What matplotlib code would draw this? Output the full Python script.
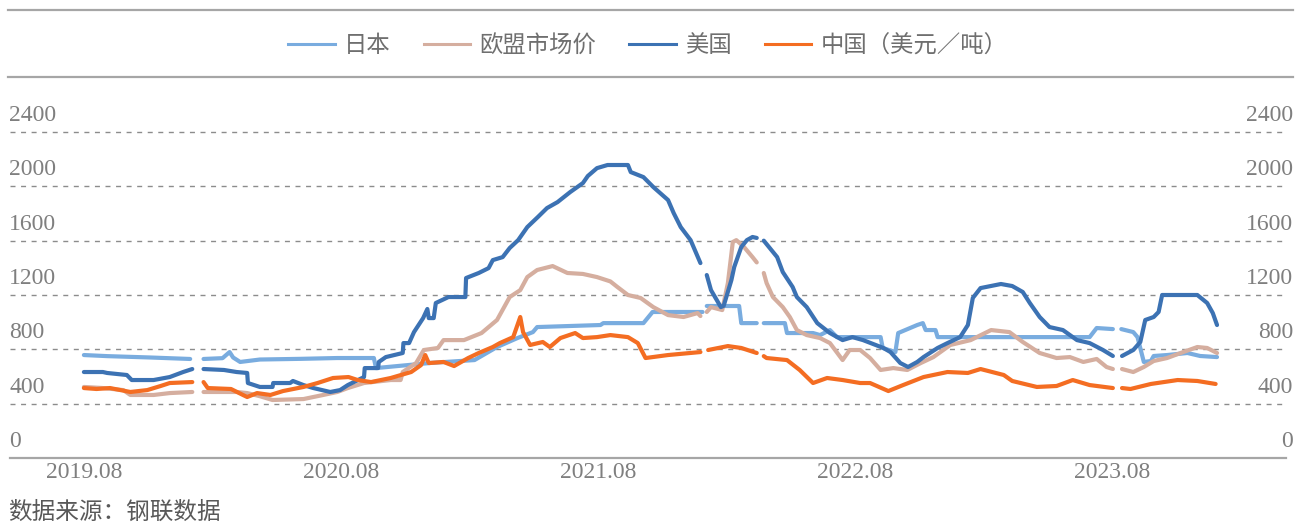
import numpy as np
import pandas as pd
import matplotlib.pyplot as plt
import matplotlib.transforms as mtransforms
from matplotlib.lines import Line2D
from matplotlib.font_manager import FontProperties

NaN = np.nan

# 日本
jp_dates = ["2019-08-01", "2019-09-03", "2019-11-03", "2019-12-30", "2020-01-08",
            "2020-01-18", "2020-02-14", "2020-02-24", "2020-02-29", "2020-03-10",
            "2020-04-07", "2020-06-04", "2020-07-26", "2020-09-16", "2020-09-19",
            "2020-12-06", "2021-02-06", "2021-03-10", "2021-04-08", "2021-04-30",
            "2021-05-06", "2021-08-04", "2021-08-08", "2021-10-04", "2021-10-17",
            "2021-12-27", "2022-01-01", "2022-01-02", "2022-02-17", "2022-02-20",
            "2022-03-14", "2022-03-18", "2022-03-24", "2022-04-23", "2022-04-26",
            "2022-06-02", "2022-06-12", "2022-06-26", "2022-07-06", "2022-09-06",
            "2022-09-09", "2022-09-27", "2022-10-01", "2022-10-28", "2022-11-05",
            "2022-11-09", "2022-11-23", "2022-11-26", "2023-06-30", "2023-07-10",
            "2023-08-02", "2023-08-08", "2023-08-14", "2023-08-31", "2023-09-06",
            "2023-09-15", "2023-09-25", "2023-09-29", "2023-10-18", "2023-11-16",
            "2023-12-04", "2023-12-28"]
jp_vals = [758, 750, 740, 729, NaN,
           729, 735, 780, 740, 707,
           725, 730, 736, 736, 662,
           700, 721, 817, 883, 927,
           964, 979, 993, 993, 1075,
           1075, NaN, 1119, 1119, 993,
           993, NaN, 993, 993, 920,
           920, 905, 942, 890, 890,
           810, 780, 920, 979, 993,
           942, 942, 890, 890, 957,
           949, NaN, 949, 927, 890,
           707, 714, 751, 758, 773,
           751, 743]

# 欧盟市场价
eu_dates = ["2019-08-01", "2019-08-28", "2019-09-26", "2019-10-06", "2019-11-08",
            "2019-12-01", "2020-01-02", "2020-01-08", "2020-01-18", "2020-03-05",
            "2020-03-20", "2020-04-07", "2020-04-25", "2020-06-08", "2020-07-06",
            "2020-07-26", "2020-08-10", "2020-09-02", "2020-10-10", "2020-10-24",
            "2020-10-27", "2020-11-15", "2020-11-26", "2020-12-16", "2020-12-24",
            "2021-01-22", "2021-02-16", "2021-03-10", "2021-03-28", "2021-04-12",
            "2021-04-22", "2021-05-06", "2021-05-28", "2021-06-18", "2021-07-10",
            "2021-07-30", "2021-08-18", "2021-08-28", "2021-09-12", "2021-09-30",
            "2021-10-18", "2021-11-08", "2021-11-30", "2021-12-20", "2021-12-24",
            "2022-01-01", "2022-01-02", "2022-01-08", "2022-01-24", "2022-02-01",
            "2022-02-08", "2022-02-13", "2022-02-24", "2022-03-08", "2022-03-14",
            "2022-03-18", "2022-03-24", "2022-03-28", "2022-04-06", "2022-04-20",
            "2022-04-30", "2022-05-10", "2022-05-24", "2022-06-12", "2022-06-26",
            "2022-07-14", "2022-07-24", "2022-08-08", "2022-08-22", "2022-09-06",
            "2022-09-24", "2022-10-14", "2022-11-02", "2022-11-20", "2022-12-14",
            "2023-01-12", "2023-02-10", "2023-03-08", "2023-03-27", "2023-04-20",
            "2023-05-14", "2023-06-02", "2023-06-21", "2023-07-10", "2023-07-24",
            "2023-08-02", "2023-08-08", "2023-08-15", "2023-08-31", "2023-09-15",
            "2023-09-29", "2023-10-18", "2023-11-10", "2023-11-30", "2023-12-14",
            "2023-12-28"]
eu_vals = [523, 515, 500, 464, 464,
           478, 486, NaN, 486, 486,
           478, 455, 427, 434, 464,
           486, 515, 552, 574, 574,
           633, 699, 795, 810, 868,
           868, 920, 1016, 1185, 1236,
           1332, 1384, 1413, 1362, 1355,
           1332, 1300, 1259, 1200, 1178,
           1111, 1052, 1038, 1067, 1045,
           NaN, 1075, 1111, 1089, 1288,
           1590, 1604, 1553, 1479, 1440,
           NaN, 1362, 1288, 1185, 1111,
           1038, 942, 905, 883, 846,
           721, 795, 795, 736, 648,
           662, 648, 699, 743, 832,
           868, 942, 927, 854, 773,
           736, 743, 707, 729, 670,
           655, NaN, 655, 633, 670,
           714, 736, 780, 817, 810,
           773]

# 美国
us_dates = ["2019-08-01", "2019-08-28", "2019-09-03", "2019-10-01", "2019-10-08",
            "2019-11-08", "2019-12-01", "2019-12-20", "2020-01-02", "2020-01-08",
            "2020-01-18", "2020-02-16", "2020-03-05", "2020-03-20", "2020-03-21",
            "2020-04-07", "2020-04-25", "2020-04-26", "2020-05-20", "2020-05-24",
            "2020-06-08", "2020-06-22", "2020-07-16", "2020-07-30", "2020-08-10",
            "2020-09-02", "2020-09-03", "2020-09-22", "2020-09-23", "2020-10-03",
            "2020-10-27", "2020-10-28", "2020-11-05", "2020-11-12", "2020-11-25",
            "2020-12-01", "2020-12-03", "2020-12-10", "2020-12-13", "2020-12-31",
            "2021-01-24", "2021-01-25", "2021-02-12", "2021-02-26", "2021-03-04",
            "2021-03-18", "2021-03-28", "2021-04-09", "2021-04-22", "2021-05-07",
            "2021-05-20", "2021-06-04", "2021-06-22", "2021-07-10", "2021-07-17",
            "2021-07-30", "2021-08-14", "2021-09-12", "2021-09-16", "2021-10-04",
            "2021-10-18", "2021-11-08", "2021-11-16", "2021-11-26", "2021-12-10",
            "2021-12-24", "2022-01-01", "2022-01-02", "2022-01-08", "2022-01-22",
            "2022-01-26", "2022-02-06", "2022-02-10", "2022-02-20", "2022-02-28",
            "2022-03-08", "2022-03-14", "2022-03-18", "2022-03-24", "2022-04-12",
            "2022-04-20", "2022-05-04", "2022-05-10", "2022-05-24", "2022-06-08",
            "2022-06-26", "2022-07-14", "2022-07-28", "2022-08-12", "2022-09-10",
            "2022-09-20", "2022-10-04", "2022-10-15", "2022-10-28", "2022-11-06",
            "2022-11-26", "2022-12-10", "2022-12-28", "2023-01-08", "2023-01-15",
            "2023-01-26", "2023-02-24", "2023-03-12", "2023-03-27", "2023-04-06",
            "2023-04-20", "2023-05-04", "2023-05-23", "2023-06-12", "2023-06-30",
            "2023-07-19", "2023-08-02", "2023-08-08", "2023-08-15", "2023-08-31",
            "2023-09-10", "2023-09-17", "2023-09-29", "2023-10-06", "2023-10-11",
            "2023-11-30", "2023-12-14", "2023-12-22", "2023-12-28"]
us_vals = [633, 633, 626, 611, 574,
           574, 596, 633, 655, NaN,
           655, 648, 633, 626, 552,
           523, 523, 552, 552, 567,
           537, 515, 486, 500, 537,
           596, 662, 662, 707, 743,
           773, 846, 846, 927, 1030,
           1097, 1030, 1030, 1141, 1185,
           1185, 1325, 1362, 1398, 1457,
           1479, 1546, 1604, 1700, 1774,
           1840, 1884, 1958, 2024, 2076,
           2134, 2157, 2157, 2105, 2068,
           1995, 1899, 1803, 1700, 1604,
           1435, NaN, 1347, 1236, 1111,
           1120, 1310, 1406, 1553, 1604,
           1627, 1620, NaN, 1600, 1479,
           1369, 1259, 1185, 1111, 993,
           920, 868, 890, 868, 810,
           780, 699, 670, 707, 743,
           810, 846, 890, 979, 1178,
           1251, 1281, 1266, 1222, 1141,
           1038, 964, 942, 868, 846,
           795, 751, NaN, 751, 795,
           854, 1016, 1038, 1075, 1200,
           1200, 1141, 1067, 979]

# 中国（美元/吨）
cn_dates = ["2019-08-01", "2019-08-19", "2019-09-07", "2019-10-06", "2019-10-30",
            "2019-11-18", "2019-12-01", "2020-01-02", "2020-01-08", "2020-01-18",
            "2020-01-24", "2020-02-26", "2020-03-14", "2020-03-20", "2020-04-03",
            "2020-04-22", "2020-05-10", "2020-06-08", "2020-06-28", "2020-07-20",
            "2020-08-11", "2020-08-24", "2020-09-12", "2020-10-10", "2020-11-08",
            "2020-11-22", "2020-11-28", "2020-12-03", "2020-12-24", "2021-01-08",
            "2021-01-28", "2021-02-12", "2021-03-04", "2021-03-14", "2021-04-02",
            "2021-04-12", "2021-04-16", "2021-04-26", "2021-05-14", "2021-05-24",
            "2021-06-08", "2021-06-29", "2021-07-10", "2021-07-30", "2021-08-18",
            "2021-09-12", "2021-09-26", "2021-10-07", "2021-11-08", "2021-12-24",
            "2022-01-01", "2022-01-04", "2022-02-01", "2022-02-20", "2022-03-14",
            "2022-03-18", "2022-03-24", "2022-03-28", "2022-04-26", "2022-05-14",
            "2022-06-02", "2022-06-22", "2022-07-14", "2022-08-08", "2022-08-22",
            "2022-09-17", "2022-10-08", "2022-11-06", "2022-12-10", "2023-01-08",
            "2023-01-26", "2023-02-28", "2023-03-12", "2023-04-16", "2023-05-14",
            "2023-06-06", "2023-06-30", "2023-08-02", "2023-08-08", "2023-08-15",
            "2023-08-27", "2023-09-25", "2023-11-02", "2023-11-30", "2023-12-26"]
cn_vals = [515, 508, 515, 486, 500,
           530, 552, 559, NaN, 559,
           515, 508, 464, 449, 478,
           464, 493, 523, 552, 589,
           596, 574, 559, 589, 633,
           684, 758, 699, 707, 677,
           736, 773, 817, 846, 890,
           1038, 927, 832, 854, 817,
           883, 920, 883, 890, 905,
           890, 846, 736, 758, 780,
           NaN, 795, 824, 810, 773,
           NaN, 750, 736, 721, 648,
           552, 589, 574, 552, 552,
           493, 537, 596, 633, 626,
           655, 611, 567, 523, 530,
           574, 537, 515, NaN, 515,
           508, 545, 574, 567, 545]

labels = ["日本", "欧盟市场价", "美国", "中国（美元／吨）"]
colors = ["#79acdf", "#d5ae9f", "#3c72b3", "#f46d22"]
yticks = [0, 400, 800, 1200, 1600, 2000, 2400]
xtick_dates = ["2019-08-01", "2020-08-01", "2021-08-01", "2022-08-01", "2023-08-01"]
xtick_labels = ["2019.08", "2020.08", "2021.08", "2022.08", "2023.08"]

cjk = "Noto Sans CJK SC"
plt.rcParams["font.family"] = ["Liberation Serif", "DejaVu Sans"]

W, H = 1296, 522
fig = plt.figure(figsize=(W / 100, H / 100), dpi=100)
ymax = 2480
ax_h = 326 * ymax / 2400
ax = fig.add_axes([10 / W, 64 / H, 1276 / W, ax_h / H])

series = [(jp_dates, jp_vals), (eu_dates, eu_vals), (us_dates, us_vals), (cn_dates, cn_vals)]
for (d, v), c, lab in zip(series, colors, labels):
    ax.plot(pd.to_datetime(d), v, color=c, lw=3.0, label=lab,
            solid_capstyle="round", solid_joinstyle="round")

ax.set_ylim(0, ymax)
ax.set_xlim(pd.Timestamp("2019-04-18"), pd.Timestamp("2024-04-04"))
ax.set_yticks(yticks)
ax.set_xticks(pd.to_datetime(xtick_dates))
ax.set_xticklabels(xtick_labels)

ax.grid(axis="y", color="#8c8c8c", lw=1.0, ls=(0, (3.6, 4.0)))
ax.grid(axis="x", visible=False)
ax.set_axisbelow(True)
for s in ["top", "left", "right"]:
    ax.spines[s].set_visible(False)
ax.spines["bottom"].set_color("#a6a6a6")
ax.spines["bottom"].set_linewidth(1.6)
ax.spines["bottom"].set_zorder(5)

ax.tick_params(axis="both", length=0, labelsize=17, labelcolor="#7f7f7f")
ax.tick_params(axis="x", pad=3)
ax.tick_params(axis="y", pad=0, labelleft=True, labelright=True)

# y labels sit just above their gridlines, inside the frame
off_l = mtransforms.ScaledTranslation(-1 / 100, 19 / 100, fig.dpi_scale_trans)
off_r = mtransforms.ScaledTranslation(7 / 100, 19 / 100, fig.dpi_scale_trans)
for t in ax.yaxis.get_major_ticks():
    t.label1.set_horizontalalignment("left")
    t.label1.set_transform(t.label1.get_transform() + off_l)
    t.label2.set_horizontalalignment("right")
    t.label2.set_transform(t.label2.get_transform() + off_r)

# legend between two grey rules
for yy in [10, 77]:
    fig.add_artist(Line2D([8 / W, 1293 / W], [1 - yy / H] * 2, color="#a6a6a6",
                          lw=1.6, transform=fig.transFigure))
handles = [Line2D([], [], color=c, lw=2.2) for c in colors]
fig.legend(handles, labels, loc="center", bbox_to_anchor=(648 / W, 1 - 46 / H),
           ncol=4, frameon=False, prop=FontProperties(family=cjk, size=16.8),
           handlelength=2.0, handletextpad=0.4, columnspacing=1.4,
           labelcolor="#6f6f6f")

fig.text(8 / W, 10 / H, "数据来源：钢联数据", family=[cjk], size=17,
         color="#595959", va="center", ha="left")

fig.savefig("out.png", dpi=100)
